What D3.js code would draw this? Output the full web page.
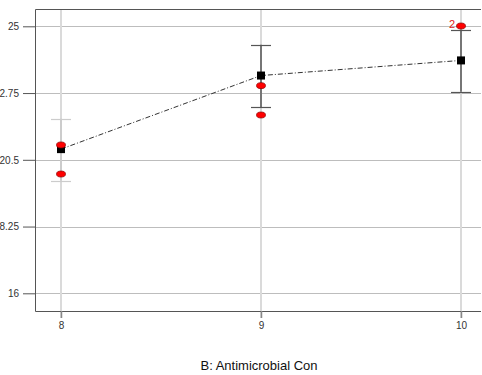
<!DOCTYPE html>
<html>
<head>
<meta charset="utf-8">
<script src="https://cdn.jsdelivr.net/npm/d3@7/dist/d3.min.js"></script>
<style>
  html, body { margin: 0; padding: 0; background: #fff; }
  svg { display: block; font-family: "Liberation Sans", Arial, sans-serif; }
</style>
</head>
<body>
<svg id="chart" width="482" height="375"></svg>
<script>
// Factor levels and fitted response
const levels = [8, 9, 10];
const means = [20.86, 23.34, 23.85];
const lowerCI = [19.80, 22.27, 22.79];
const upperCI = [21.88, 24.38, 24.89];
const barColors = ["#cccccc", "#555555", "#555555"];

// Observed design points (count > 1 means overlapping runs)
const obsX = [8, 8, 9, 9, 10];
const obsY = [21.0, 20.02, 23.0, 22.01, 25.01];
const obsCount = [1, 1, 1, 1, 2];

const yTicks = [16, 18.25, 20.5, 22.75, 25];
const xTicks = [8, 9, 10];
const xTitle = "B: Antimicrobial Con";

const svg = d3.select("#chart");
const frame = { left: 35, right: 481, top: 9, bottom: 311 };

const x = d3.scaleLinear().domain([8, 10]).range([61, 461]);
const y = d3.scaleLinear().domain([16, 25]).range([293.3, 26.3]);

// Horizontal grid
svg.append("g").selectAll("line").data(yTicks).join("line")
  .attr("x1", frame.left).attr("x2", frame.right)
  .attr("y1", d => Math.round(y(d)) + 0.5).attr("y2", d => Math.round(y(d)) + 0.5)
  .attr("stroke", "#bdbdbd").attr("stroke-width", 1);

// Vertical grid
svg.append("g").selectAll("line").data(xTicks).join("line")
  .attr("x1", d => x(d)).attr("x2", d => x(d))
  .attr("y1", frame.top).attr("y2", frame.bottom + 7)
  .attr("stroke", "#dadada").attr("stroke-width", 2);

// Frame: top, left, bottom
svg.append("path")
  .attr("d", `M${frame.right},${frame.top + 0.5}H${frame.left + 0.5}V${frame.bottom + 0.5}H${frame.right}`)
  .attr("fill", "none").attr("stroke", "#555").attr("stroke-width", 1);

// Y axis ticks and labels
const yAxis = d3.axisLeft(y).tickValues(yTicks).tickSize(12).tickPadding(4)
  .tickFormat(d => String(d));
const gy = svg.append("g").attr("transform", `translate(${frame.left},0)`).call(yAxis);
gy.select(".domain").remove();
gy.selectAll(".tick line").attr("stroke", "#555");
gy.selectAll(".tick text").attr("fill", "#333").style("font-size", "10px")
  .style("font-family", "'Liberation Sans', Arial, sans-serif");

// X axis ticks and labels
const xAxis = d3.axisBottom(x).tickValues(xTicks).tickSize(7).tickPadding(4)
  .tickFormat(d3.format("d"));
const gx = svg.append("g").attr("transform", `translate(0,${frame.bottom})`).call(xAxis);
gx.select(".domain").remove();
gx.selectAll(".tick line").attr("stroke", "#888").attr("stroke-width", 1.5);
gx.selectAll(".tick text").attr("fill", "#333").style("font-size", "10px")
  .style("font-family", "'Liberation Sans', Arial, sans-serif");

// Confidence bars
const bars = svg.append("g");
levels.forEach((lv, i) => {
  const cx = x(lv);
  bars.append("line")
    .attr("x1", cx).attr("x2", cx)
    .attr("y1", y(upperCI[i])).attr("y2", y(lowerCI[i]))
    .attr("stroke", barColors[i]).attr("stroke-width", i === 0 ? 2 : 1.5);
  [upperCI[i], lowerCI[i]].forEach(v => {
    bars.append("line")
      .attr("x1", cx - 10).attr("x2", cx + 10)
      .attr("y1", Math.round(y(v)) + 0.5).attr("y2", Math.round(y(v)) + 0.5)
      .attr("stroke", barColors[i]).attr("stroke-width", 1.2);
  });
});

// Mean prediction line
svg.append("path")
  .datum(levels.map((lv, i) => [lv, means[i]]))
  .attr("d", d3.line().x(d => x(d[0])).y(d => y(d[1])))
  .attr("fill", "none").attr("stroke", "#333").attr("stroke-width", 1)
  .attr("stroke-dasharray", "5,2,1,2");

// Mean markers
svg.append("g").selectAll("rect").data(levels).join("rect")
  .attr("x", (d, i) => x(d) - 4).attr("y", (d, i) => y(means[i]) - 4)
  .attr("width", 8).attr("height", 8).attr("fill", "#000");

// Observed points
const obs = obsX.map((v, i) => ({ x: v, y: obsY[i], n: obsCount[i] }));
svg.append("g").selectAll("ellipse").data(obs).join("ellipse")
  .attr("cx", d => x(d.x)).attr("cy", d => y(d.y))
  .attr("rx", 4.5).attr("ry", 3)
  .attr("fill", "#ff0000").attr("stroke", "#8b0000").attr("stroke-width", 0.7);

svg.append("g").selectAll("text").data(obs.filter(d => d.n > 1)).join("text")
  .attr("x", d => x(d.x) - 6).attr("y", d => y(d.y) + 2)
  .attr("text-anchor", "end")
  .attr("fill", "#e02020").style("font-size", "11px")
  .text(d => d.n);

// Axis title
svg.append("text")
  .attr("x", (frame.left + frame.right) / 2 + 1).attr("y", 370)
  .attr("text-anchor", "middle").attr("fill", "#111")
  .style("font-size", "13px")
  .text(xTitle);
</script>
</body>
</html>
